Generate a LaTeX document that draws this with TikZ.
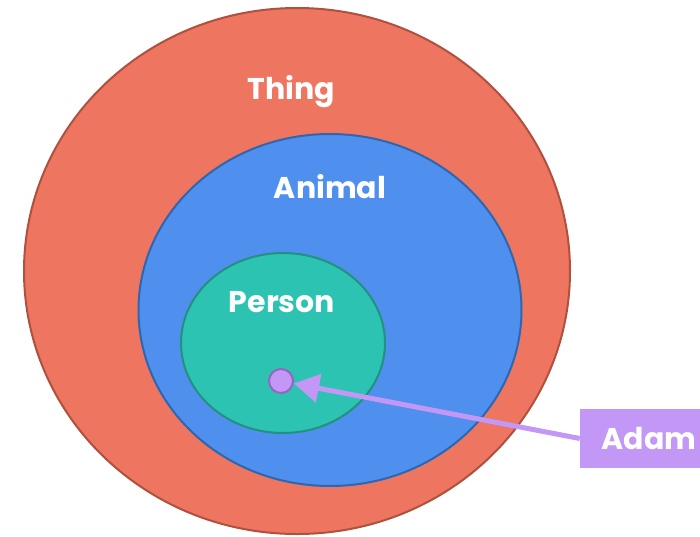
\documentclass[tikz,border=0pt]{standalone}
\usepackage{fontspec}
\setmainfont{Poppins}
\usepackage{xcolor}
\usetikzlibrary{arrows.meta,shapes.geometric}
\definecolor{thingred}{HTML}{EE7560}
\definecolor{thingline}{HTML}{B0503F}
\definecolor{animalblue}{HTML}{4F8FEE}
\definecolor{animalline}{HTML}{2F66B0}
\definecolor{persongreen}{HTML}{2DC3B2}
\definecolor{personline}{HTML}{23917F}
\definecolor{adampurple}{HTML}{C297F5}
\definecolor{adamline}{HTML}{9466C0}
\begin{document}
\begin{tikzpicture}[x=0.75pt,y=-0.75pt,
  setbox/.style={ellipse,inner sep=0pt,line width=1.5pt},
  setname/.style={text=white,font=\bfseries\fontsize{22.5}{26}\selectfont}]
\useasboundingbox (0,0) rectangle (700,536);
\node[setbox,fill=thingred,draw=thingline,minimum width=409.5pt,minimum height=394.5pt] (thing) at (297,271) {};
\node[setbox,fill=animalblue,draw=animalline,minimum width=287.25pt,minimum height=264pt] (animal) at (330,310) {};
\node[setbox,fill=persongreen,draw=personline,minimum width=153pt,minimum height=135pt] (person) at (283,343) {};
\node[setname] (thinglabel) at (291,92) {Thing};
\node[setname] (animallabel) at (330,187) {Animal};
\node[setname] (personlabel) at (282,302) {Person};
\node[circle,inner sep=0pt,minimum size=18pt,fill=adampurple,draw=adamline,line width=1.5pt] (adamdot) at (281,381) {};
\node[setname,fill=adampurple,minimum width=103.5pt,minimum height=44.25pt] (adam) at (649,438.5) {Adam};
\draw[adampurple,line width=3.75pt,-{Triangle[length=19pt,width=21pt]}] (adam.west) -- (adamdot);
\end{tikzpicture}
\end{document}
